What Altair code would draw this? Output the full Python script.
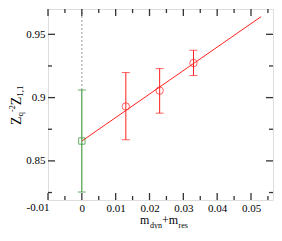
import altair as alt
import pandas as pd

# ---- data ----
meas_x = [0.013, 0.023, 0.033]
meas_y = [0.893, 0.9055, 0.9273]
meas_lo = [0.8667, 0.8877, 0.9174]
meas_hi = [0.9198, 0.9229, 0.9374]

chiral_x = [0.0]
chiral_y = [0.8657]
chiral_lo = [0.8254]
chiral_hi = [0.906]

fit_x = [0.0, 0.053]
fit_y = [0.8657, 0.964]

x_major = [-0.01, 0.0, 0.01, 0.02, 0.03, 0.04, 0.05]
x_labels = ["-0.01", "0", "0.01", "0.02", "0.03", "0.04", "0.05"]
x_minor = [-0.005, 0.005, 0.015, 0.025, 0.035, 0.045, 0.055]
y_major = [0.85, 0.9, 0.95]
y_labels = ["0.85", "0.9", "0.95"]
y_minor = [0.825, 0.875, 0.925]

x_domain = [-0.01, 0.0565]
y_domain = [0.8191, 0.970]

W, H = 225, 191
FONT = "Liberation Serif"

meas = pd.DataFrame({"x": meas_x, "y": meas_y, "lo": meas_lo, "hi": meas_hi})
chiral = pd.DataFrame({"x": chiral_x, "y": chiral_y, "lo": chiral_lo, "hi": chiral_hi})
fit = pd.DataFrame({"x": fit_x, "y": fit_y})
guide = pd.DataFrame({"x": chiral_x, "y": chiral_hi, "y2": [y_domain[1]]})
one = pd.DataFrame({"k": [0]})
first_lab = pd.DataFrame({"v": x_major[:1], "t": x_labels[:1]})

xs = alt.Scale(domain=x_domain, nice=False, zero=False)
ys = alt.Scale(domain=y_domain, nice=False, zero=False)

# first x label (-0.01) is drawn separately, shifted left as in the reference
xlab_expr = "['', " + ",".join("'%s'" % s for s in x_labels[1:]) + "][round((datum.value - (%g)) / 0.01)]" % x_major[0]
ylab_expr = "[" + ",".join("'%s'" % s for s in y_labels) + "][round((datum.value - (%g)) / 0.05)]" % y_major[0]

xaxis = alt.Axis(values=x_major, labelExpr=xlab_expr, title=None, domain=False, ticks=False,
                 grid=False, labelPadding=2, labelFont=FONT, labelFontSize=11, labelColor="black",
                 labelFlush=False, labelOverlap=False)
yaxis = alt.Axis(values=y_major, labelExpr=ylab_expr, title=None, domain=False, ticks=False,
                 grid=False, labelPadding=3, labelFont=FONT, labelFontSize=11, labelColor="black",
                 labelFlush=False, labelOverlap=False)


def X(f="x"):
    return alt.X(f, type="quantitative", scale=xs, axis=xaxis)


def Y(f="y"):
    return alt.Y(f, type="quantitative", scale=ys, axis=yaxis)


RED = "#ff2020"
GREEN = "#2a8a2a"
FRAME = "#333333"

layers = []

# dotted guide at x = 0
layers.append(alt.Chart(guide).mark_rule(color="#9a9a9a", strokeDash=[2, 2], strokeWidth=1)
              .encode(x=X(), y=Y(), y2="y2"))
# fit line
layers.append(alt.Chart(fit).mark_line(color=RED, strokeWidth=1).encode(x=X(), y=Y()))
# error bars
for df, col in ((chiral, GREEN), (meas, RED)):
    layers.append(alt.Chart(df).mark_rule(color=col, strokeWidth=1).encode(x=X(), y=Y("lo"), y2="hi"))
    layers.append(alt.Chart(df).mark_tick(color=col, orient="horizontal", size=8, thickness=1)
                  .encode(x=X(), y=Y("lo")))
    layers.append(alt.Chart(df).mark_tick(color=col, orient="horizontal", size=8, thickness=1)
                  .encode(x=X(), y=Y("hi")))
# markers
layers.append(alt.Chart(chiral).mark_point(shape="square", filled=False, color=GREEN, size=40, strokeWidth=1)
              .encode(x=X(), y=Y()))
layers.append(alt.Chart(meas).mark_point(shape="circle", filled=False, color=RED, size=55, strokeWidth=1)
              .encode(x=X(), y=Y()))

# inward ticks on all four sides
xmaj = pd.DataFrame({"v": x_major})
xmin = pd.DataFrame({"v": x_minor})
ymaj = pd.DataFrame({"v": y_major})
ymin = pd.DataFrame({"v": y_minor})
for df, L in ((xmaj, 7), (xmin, 4)):
    layers.append(alt.Chart(df).mark_rule(color=FRAME, strokeWidth=1.3)
                  .encode(x=X("v"), y=alt.value(H), y2=alt.value(H - L)))
    layers.append(alt.Chart(df).mark_rule(color=FRAME, strokeWidth=1.3)
                  .encode(x=X("v"), y=alt.value(0), y2=alt.value(L)))
for df, L in ((ymaj, 7), (ymin, 4)):
    layers.append(alt.Chart(df).mark_rule(color=FRAME, strokeWidth=1.3)
                  .encode(y=Y("v"), x=alt.value(0), x2=alt.value(L)))
    layers.append(alt.Chart(df).mark_rule(color=FRAME, strokeWidth=1.3)
                  .encode(y=Y("v"), x=alt.value(W), x2=alt.value(W - L)))

# the -0.01 tick label
layers.append(alt.Chart(first_lab).mark_text(font=FONT, fontSize=11, color="black", align="center",
                                              baseline="top", dx=-10)
              .encode(x=X("v"), y=alt.value(H + 2), text="t:N"))


# axis titles built from pieces (page coords -> plot coords)
def piece(text, x, y, size, angle=0):
    kw = dict(text=text, font=FONT, fontSize=size, align="left", baseline="alphabetic", color="black")
    if angle:
        kw["angle"] = angle
    return alt.Chart(one).mark_text(**kw).encode(x=alt.value(x), y=alt.value(y))


ox, oy = 48, 9
layers += [
    piece("m", 140 - ox, 224 - oy, 12),
    piece("dyn", 150 - ox, 227.5 - oy, 8),
    piece("+m", 162 - ox, 224 - oy, 12),
    piece("res", 178.5 - ox, 227.5 - oy, 8),
]
layers += [
    piece("Z", 20.5 - ox, 125 - oy, 14, 270),
    piece("q", 23 - ox, 116.4 - oy, 9, 270),
    piece("-2", 15 - ox, 111.9 - oy, 8, 270),
    piece("Z", 20.5 - ox, 105.3 - oy, 14, 270),
    piece("1,1", 23 - ox, 96.7 - oy, 9, 270),
]

chart = alt.layer(*layers).properties(
    width=W, height=H,
    autosize=alt.AutoSizeParams(type="none"),
    padding={"left": 40, "top": 1, "right": 1, "bottom": 29},
).configure_view(stroke=FRAME, strokeWidth=2).configure(background="white")

chart.save("out.html", embed_options={"renderer": "svg", "actions": False})
